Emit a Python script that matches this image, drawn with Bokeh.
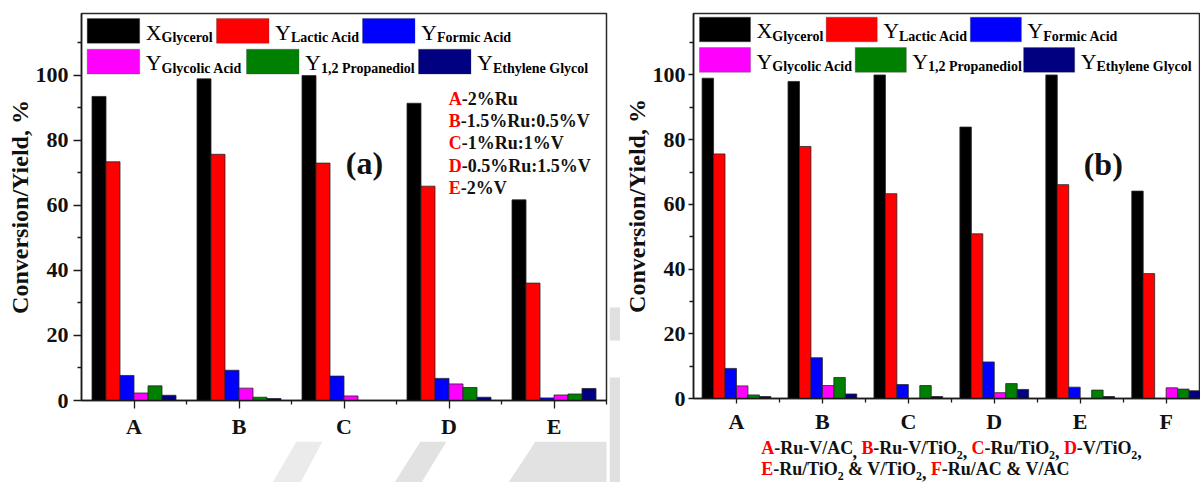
import numpy as np
from bokeh.plotting import figure
from bokeh.models import FixedTicker, Label, BoxAnnotation, Range1d, ColumnDataSource
from bokeh.layouts import row, column
from bokeh.embed import file_html
from bokeh.resources import INLINE

FONT = "Liberation Serif"

# product series: prefix letter, subscript name, bar colour
series_keys = ["glycerol", "lactic", "formic", "glycolic", "propanediol", "ethylene"]
series_prefix = ["X", "Y", "Y", "Y", "Y", "Y"]
series_names = ["Glycerol", "Lactic Acid", "Formic Acid", "Glycolic Acid",
                "1,2 Propanediol", "Ethylene Glycol"]
series_colors = ["#000000", "#ff0000", "#0000ff", "#ff00ff", "#008000", "#000080"]

# panel (a): Ru/V loading on the same support
cats_a = ["A", "B", "C", "D", "E"]
catalysts_a = ["2%Ru", "1.5%Ru:0.5%V", "1%Ru:1%V", "0.5%Ru:1.5%V", "2%V"]
glycerol_a = [93.5, 98.9, 99.9, 91.4, 61.7]
lactic_a = [73.4, 75.7, 73.0, 65.9, 36.1]
formic_a = [7.7, 9.3, 7.5, 6.8, 0.8]
glycolic_a = [2.3, 3.8, 1.4, 5.1, 1.7]
propanediol_a = [4.5, 1.0, 0.0, 4.0, 2.0]
ethylene_a = [1.6, 0.6, 0.0, 1.0, 3.7]

# panel (b): supports and physical mixtures
cats_b = ["A", "B", "C", "D", "E", "F"]
catalysts_b = ["Ru-V/AC", "Ru-V/TiO2", "Ru/TiO2", "V/TiO2", "Ru/TiO2 & V/TiO2", "Ru/AC & V/AC"]
glycerol_b = [99.0, 98.0, 100.0, 83.9, 100.0, 64.1]
lactic_b = [75.6, 77.9, 63.3, 50.9, 66.1, 38.6]
formic_b = [9.3, 12.6, 4.3, 11.3, 3.5, 0.0]
glycolic_b = [3.9, 4.0, 0.0, 1.8, 0.0, 3.3]
propanediol_b = [1.1, 6.5, 4.0, 4.6, 2.6, 2.9]
ethylene_b = [0.6, 1.4, 0.6, 2.8, 0.6, 2.4]

Y_MAX = 119
PAGE_H = 482
H_A = 441        # chart (a) height, strip below it fills the rest
H_B = 436        # chart (b) height, caption strip below it

# frame edges (page pixels)
A_LEFT, A_RIGHT, A_TOP, A_BOTTOM = 81, 606, 13, 403
B_LEFT, B_RIGHT, B_TOP, B_BOTTOM = 689, 1200, 13, 400
A_W, GAP_W, B_W = 609, 11, 580

# advance widths (1/1000 em) of the serif face, used to chain text runs
TB = {" ": 250, "%": 1000, "&": 833, ",": 250, "-": 333, ".": 250, "/": 278, ":": 333,
      "A": 722, "B": 667, "C": 722, "D": 722, "E": 667, "F": 611, "G": 778, "L": 667,
      "O": 778, "P": 611, "R": 722, "T": 667, "V": 722, "X": 722, "Y": 722,
      "a": 500, "c": 444, "d": 556, "e": 444, "h": 556, "i": 278, "l": 278, "m": 833,
      "n": 556, "o": 500, "p": 556, "r": 444, "s": 389, "t": 333, "u": 556, "y": 500}
TR = dict(TB, X=722, Y=722)
DESCENT = 0.216


def text_w(s, size, bold=True):
    table = TB if bold else TR
    return sum(table.get(ch, 500) for ch in s) * size / 1000.0


class Frame:
    """Page-pixel -> data conversion for a figure whose frame edges are known."""

    def __init__(self, left, right, top, bottom, x0, x1, y0, y1):
        self.left, self.right, self.top, self.bottom = left, right, top, bottom
        self.x0, self.x1, self.y0, self.y1 = x0, x1, y0, y1

    def dx(self, px):
        return self.x0 + (px - self.left) * (self.x1 - self.x0) / (self.right - self.left)

    def dy(self, py):
        return self.y0 + (self.bottom - py) * (self.y1 - self.y0) / (self.bottom - self.top)


def make_panel(cats, values, width, height, b_left, b_right, b_bottom, x_end, tick_out,
               lab_standoff, x_standoff):
    n = len(cats)
    p = figure(width=width, height=height, x_range=Range1d(-0.5, x_end), y_range=Range1d(0, Y_MAX),
               output_backend="svg", toolbar_location=None,
               min_border_left=b_left, min_border_right=b_right,
               min_border_top=13, min_border_bottom=b_bottom)
    p.grid.visible = False
    p.background_fill_color = "white"
    p.border_fill_color = "white"
    p.outline_line_color = "#2a2a2a"
    p.outline_line_width = 1.5

    bw = 0.8 / len(series_keys)
    data = {"x": np.arange(n, dtype=float)}
    data.update({k: v for k, v in zip(series_keys, values)})
    src = ColumnDataSource(data)
    for i, key in enumerate(series_keys):
        off = (i - (len(series_keys) - 1) / 2.0) * bw
        src.data["x_" + key] = data["x"] + off
        p.vbar(x="x_" + key, top=key, bottom=0, width=bw, source=src,
               fill_color=series_colors[i], line_color="#262626", line_width=0.8)

    xa = p.xaxis[0]
    xa.ticker = FixedTicker(ticks=list(range(n)), minor_ticks=[i + 0.5 for i in range(n)])
    xa.major_label_overrides = {i: c for i, c in enumerate(cats)}
    ya = p.yaxis[0]
    ya.ticker = FixedTicker(ticks=[0, 20, 40, 60, 80, 100], minor_ticks=[10, 30, 50, 70, 90, 110])
    ya.axis_label = "Conversion/Yield, %"
    ya.axis_label_text_font = FONT
    ya.axis_label_text_font_style = "bold"
    ya.axis_label_text_font_size = "24px"
    ya.axis_label_text_color = "#111111"
    ya.axis_label_standoff = 0
    for ax in (xa, ya):
        ax.axis_line_color = "#1a1a1a"
        ax.axis_line_width = 1.5
        ax.major_tick_line_color = "#1a1a1a"
        ax.minor_tick_line_color = "#1a1a1a"
        ax.major_tick_line_width = 1.3
        ax.minor_tick_line_width = 1.3
        ax.major_tick_in = 0
        ax.minor_tick_in = 0
        ax.major_tick_out = tick_out
        ax.minor_tick_out = 4
        ax.major_label_text_font = FONT
        ax.major_label_text_font_style = "bold"
        ax.major_label_text_font_size = "22px"
        ax.major_label_text_color = "#111111"
    ya.major_label_standoff = lab_standoff
    xa.major_label_standoff = x_standoff
    return p


def put_text(p, fr, x, base, text, color, size, bold, align="left"):
    p.add_layout(Label(x=fr.dx(x), y=fr.dy(base + DESCENT * size), text=text, text_color=color,
                       text_font=FONT, text_font_size=f"{size}px",
                       text_font_style="bold" if bold else "normal",
                       text_baseline="bottom", text_align=align))


def draw_runs(p, fr, x_px, base_px, runs):
    x = x_px
    for text, color, size, bold, dy in runs:
        lead = len(text) - len(text.lstrip(" "))
        x += text_w(" " * lead, size, bold)
        body = text.strip(" ")
        if body:
            put_text(p, fr, x, base_px + dy, body, color, size, bold)
        x += text_w(text.lstrip(" "), size, bold)


def draw_legend(p, fr, rows_left, rows_top, sw_w, sw_h):
    order = [[0, 1, 2], [3, 4, 5]]
    for r, items in enumerate(order):
        top = rows_top[r]
        for j, i in enumerate(items):
            left = rows_left[r][j]
            p.add_layout(BoxAnnotation(left=fr.dx(left), right=fr.dx(left + sw_w),
                                       top=fr.dy(top), bottom=fr.dy(top + sw_h),
                                       fill_color=series_colors[i], fill_alpha=1.0,
                                       line_color="#3c3c3c", line_width=1, level="overlay"))
            base = top + sw_h - 3.5
            draw_runs(p, fr, left + sw_w + 6, base,
                      [(series_prefix[i], "#000000", 22, False, 0),
                       (series_names[i], "#000000", 14, True, 2.5)])


def plain_figure(width, height, fr, b_left=0, b_right=0):
    """Axis-less figure whose data coordinates equal page pixels."""
    f = figure(width=width, height=height, x_range=Range1d(fr.x0, fr.x1),
               y_range=Range1d(fr.y0, fr.y1), output_backend="svg", toolbar_location=None,
               x_axis_type=None, y_axis_type=None, min_border=0,
               min_border_left=b_left, min_border_right=b_right)
    f.grid.visible = False
    f.outline_line_color = None
    f.background_fill_color = "white"
    f.border_fill_color = "white"
    return f


# ---------------- panel (a) ----------------
pa = make_panel(cats_a, [glycerol_a, lactic_a, formic_a, glycolic_a, propanediol_a, ethylene_a],
                width=A_W, height=H_A, b_left=A_LEFT, b_right=A_W - A_RIGHT,
                b_bottom=H_A - A_BOTTOM, x_end=4.5, tick_out=8, lab_standoff=5, x_standoff=5)
fa = Frame(A_LEFT, A_RIGHT, A_TOP, A_BOTTOM, -0.5, 4.5, 0, Y_MAX)
draw_legend(pa, fa, [[86.7, 216, 362], [86.7, 246, 418]], [18, 49], 52.5, 25)
for k, (c, name) in enumerate(zip(cats_a, catalysts_a)):
    draw_runs(pa, fa, 448.3, 105.3 + 22.4 * k,
              [(c, "#ff0000", 18, True, 0), ("-" + name, "#111111", 18, True, 0)])
pa.add_layout(Label(x=fa.dx(364), y=fa.dy(164), text="(a)", text_font=FONT, text_font_size="32px",
                    text_font_style="bold", text_align="center", text_baseline="middle",
                    text_color="#111111"))

# strip under panel (a) with the faint grey background strokes (frame lined up with panel a)
fsa = Frame(A_LEFT, A_RIGHT, H_A, PAGE_H, A_LEFT, A_RIGHT, PAGE_H, H_A)
strip_a = plain_figure(A_W, PAGE_H - H_A, fsa, A_LEFT, A_W - A_RIGHT)
strip_a.patches(xs=[[535, 609, 609, 508], [420, 446, 421, 394], [296, 322, 300, 272]],
                ys=[[H_A, H_A, PAGE_H, PAGE_H]] * 3,
                fill_color=["#e2e2e2", "#e2e2e2", "#ebebeb"], line_color=None)

# narrow grey band between the two panels
fg = Frame(A_W, A_W + GAP_W, 0, PAGE_H, A_W, A_W + GAP_W, PAGE_H, 0)
gap = plain_figure(GAP_W, PAGE_H, fg)
gap.quad(left=[609, 609], right=[620, 620], top=[307, 377], bottom=[340, PAGE_H],
         fill_color="#e0e0e0", line_color=None)

# ---------------- panel (b) ----------------
pb = make_panel(cats_b, [glycerol_b, lactic_b, formic_b, glycolic_b, propanediol_b, ethylene_b],
                width=B_W, height=H_B, b_left=B_LEFT - A_W - GAP_W, b_right=0,
                b_bottom=H_B - B_BOTTOM, x_end=5.4, tick_out=5, lab_standoff=3, x_standoff=5)
fb = Frame(B_LEFT, B_RIGHT, B_TOP, B_BOTTOM, -0.5, 5.4, 0, Y_MAX)
draw_legend(pb, fb, [[695, 822.7, 968], [695, 852, 1021.7]], [16.7, 47.3], 51.5, 24.8)
pb.add_layout(Label(x=fb.dx(1102), y=fb.dy(164), text="(b)", text_font=FONT,
                    text_font_size="32px", text_font_style="bold", text_align="center",
                    text_baseline="middle", text_color="#111111"))

# caption strip under panel (b) (frame lined up with panel b)
fsb = Frame(B_LEFT, B_RIGHT, H_B, PAGE_H, B_LEFT, B_RIGHT, PAGE_H, H_B)
strip_b = plain_figure(B_W, PAGE_H - H_B, fsb, B_LEFT - A_W - GAP_W, 0)


def catalyst_runs(idx, last_on_line):
    runs = [(cats_b[idx], "#ff0000", 18, True, 0)]
    parts = ("-" + catalysts_b[idx]).split("TiO2")
    for j, part in enumerate(parts):
        if j > 0:
            runs.append(("2", "#111111", 12, True, 1.5))
        txt = part + ("TiO" if j < len(parts) - 1 else "")
        if txt:
            runs.append((txt, "#111111", 18, True, 0))
    if idx < len(cats_b) - 1:
        runs.append(("," if last_on_line else ", ", "#111111", 18, True, 0))
    return runs


for items, base in [([0, 1, 2, 3], 454.0), ([4, 5], 475.0)]:
    runs = []
    for j, idx in enumerate(items):
        runs += catalyst_runs(idx, j == len(items) - 1)
    draw_runs(strip_b, fsb, 757.3, base, runs)

layout = row(column(pa, strip_a), gap, column(pb, strip_b))
open("out.html", "w").write(file_html(layout, INLINE))
